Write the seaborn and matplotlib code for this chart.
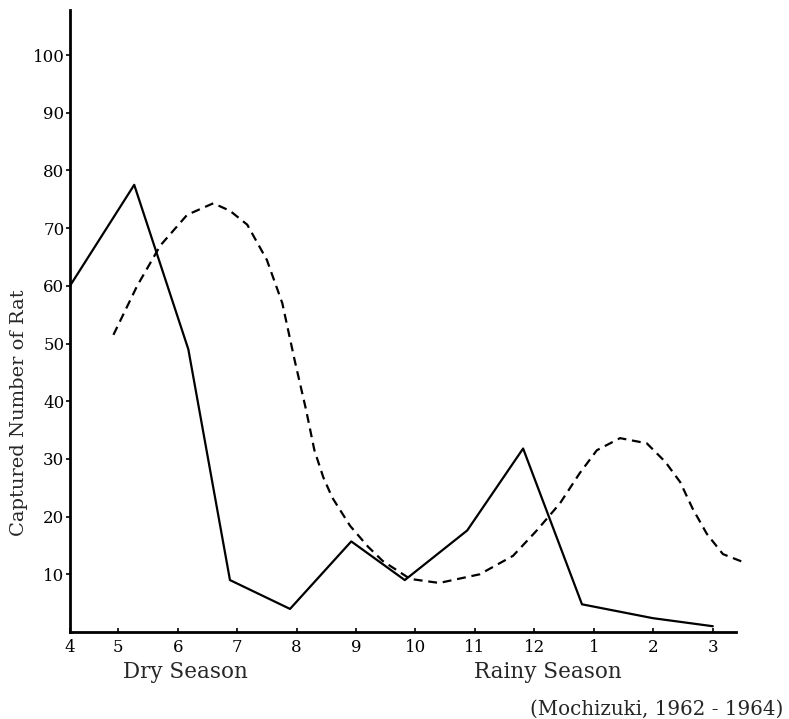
import matplotlib
matplotlib.use("Agg")
import matplotlib.pyplot as plt
import seaborn as sns
import pandas as pd

# Month tick labels and positions (5 -> 1, ..., 3 -> 11; "4" sits at the axis origin)
month_labels = ["4", "5", "6", "7", "8", "9", "10", "11", "12", "1", "2", "3"]
month_pos = [0.19, 1, 2, 3, 4, 5, 6, 7, 8, 9, 10, 11]

# Solid series (captured rats)
solid_x = [0.19, 1.27, 2.18, 2.88, 3.89, 4.92, 5.82, 6.87, 7.81, 8.80, 9.99, 11.0]
solid_y = [60, 77.5, 49, 9, 4, 15.7, 9, 17.6, 31.8, 4.8, 2.4, 1.0]

# Dashed series (smooth curve)
dash_x = [0.92, 1.32, 1.71, 2.16, 2.6, 2.88, 3.17, 3.5, 3.76, 3.97, 4.16, 4.3,
          4.45, 4.6, 4.9, 5.2, 5.45, 5.91, 6.4, 7.08, 7.64, 8.04, 8.43, 8.76, 9.05, 9.44,
          9.89, 10.2, 10.45, 10.66, 10.9, 11.17, 11.54]
dash_y = [51.5, 60, 67, 72.3, 74.3, 73, 70.6, 64.5, 57, 47, 38.5, 31.5,
          26.8, 23.3, 18.4, 14.8, 12.3, 9.2, 8.5, 10, 13.2, 17.6, 22.3, 27.5, 31.5, 33.6,
          32.7, 29.5, 26, 21.4, 17, 13.5, 12]

y_ticks = [10, 20, 30, 40, 50, 60, 70, 80, 90, 100]

sns.set_style("ticks")
plt.rcParams["font.family"] = ["DejaVu Serif"]

W, H = 789, 719
fig = plt.figure(figsize=(W / 100, H / 100), dpi=100)
ax = fig.add_axes([70 / W, 1 - 632 / H, (736 - 70) / W, (632 - 10) / H])

solid_df = pd.DataFrame({"x": solid_x, "y": solid_y})
dash_df = pd.DataFrame({"x": dash_x, "y": dash_y})

sns.lineplot(data=solid_df, x="x", y="y", sort=False, estimator=None,
             color="black", linewidth=1.6, ax=ax)
sns.lineplot(data=dash_df, x="x", y="y", sort=False, estimator=None,
             color="black", linewidth=1.6, ax=ax, clip_on=False,
             dashes=False, linestyle=(0, (4, 2.6)))

ax.set_xlim(0.19, 11.39)
ax.set_ylim(0, 107.8)
sns.despine(ax=ax)
for s in ["left", "bottom"]:
    ax.spines[s].set_linewidth(2.0)
    ax.spines[s].set_color("black")

ax.set_xticks(month_pos)
ax.set_xticklabels(month_labels, fontsize=12)
ax.set_yticks(y_ticks)
ax.set_yticklabels([str(v) for v in y_ticks], fontsize=12)
ax.tick_params(axis="x", direction="in", length=3, width=1.2, pad=5, colors="black")
ax.tick_params(axis="y", direction="out", length=3, width=1.2, pad=1, colors="black")
ax.set_xlabel("")
ax.set_ylabel("Captured Number of Rat", fontsize=14)
ax.yaxis.set_label_coords(-0.063, 0.352)

fig.text(185 / W, 1 - 672 / H, "Dry Season", fontsize=15.5, ha="center", va="center")
fig.text(548 / W, 1 - 672 / H, "Rainy Season", fontsize=15.5, ha="center", va="center")
fig.text(783 / W, 1 - 709 / H, "(Mochizuki, 1962 - 1964)", fontsize=14.3,
         ha="right", va="center")

fig.savefig("out.png", dpi=100)
